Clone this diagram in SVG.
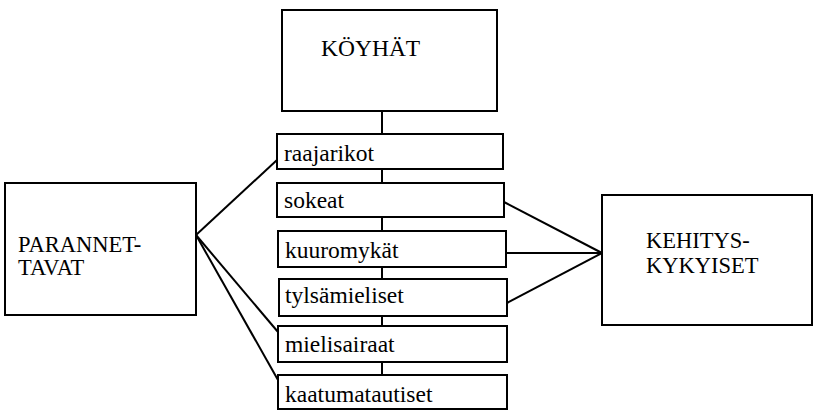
<svg xmlns="http://www.w3.org/2000/svg" width="814" height="410" viewBox="0 0 814 410">
  <style>
    .box { fill: #fff; stroke: #000; stroke-width: 2; }
    .lbl { font-family: 'Liberation Serif', 'DejaVu Serif', serif; font-size: 23.5px; fill: #000; }
    .big { font-size: 22.5px; }
    .conn line { stroke: #000; stroke-width: 2; }
  </style>
  <rect width="814" height="410" fill="#fff"/>

  <!-- connectors -->
  <g id="connectors" class="conn">
    <!-- vertical chain -->
    <line x1="382" y1="111" x2="382" y2="134"/>
    <line x1="382" y1="169" x2="382" y2="183"/>
    <line x1="382" y1="217" x2="382" y2="231"/>
    <line x1="382" y1="267" x2="382" y2="279"/>
    <line x1="382" y1="316" x2="382" y2="326"/>
    <line x1="382" y1="362" x2="382" y2="375"/>
    <!-- fan from PARANNET-TAVAT -->
    <line x1="196" y1="235" x2="277" y2="160"/>
    <line x1="196" y1="235" x2="278" y2="332"/>
    <line x1="196" y1="235" x2="278" y2="380"/>
    <!-- fan into KEHITYS-KYKYISET -->
    <line x1="504" y1="202" x2="602" y2="253"/>
    <line x1="506" y1="253" x2="602" y2="253"/>
    <line x1="507" y1="303" x2="602" y2="253"/>
  </g>

  <g id="koyhat">
    <rect class="box" x="282" y="10" width="215" height="101"/>
    <text class="lbl" x="321" y="56">KÖYHÄT</text>
  </g>

  <g id="raajarikot">
    <rect class="box" x="277" y="134" width="226" height="35"/>
    <text class="lbl" x="284" y="161">raajarikot</text>
  </g>

  <g id="sokeat">
    <rect class="box" x="277" y="183" width="227" height="34"/>
    <text class="lbl" x="284" y="208">sokeat</text>
  </g>

  <g id="kuuromykat">
    <rect class="box" x="278" y="231" width="228" height="36"/>
    <text class="lbl" x="285" y="258">kuuromykät</text>
  </g>

  <g id="tylsamieliset">
    <rect class="box" x="279" y="279" width="228" height="37"/>
    <text class="lbl" x="285" y="303">tylsämieliset</text>
  </g>

  <g id="mielisairaat">
    <rect class="box" x="278" y="326" width="229" height="36"/>
    <text class="lbl" x="285" y="352">mielisairaat</text>
  </g>

  <g id="kaatumatautiset">
    <rect class="box" x="278" y="375" width="229" height="34"/>
    <text class="lbl" x="285" y="402">kaatumatautiset</text>
  </g>

  <g id="parannettavat">
    <rect class="box" x="5" y="183" width="191" height="132"/>
    <text class="lbl big" x="18" y="252">PARANNET-</text>
    <text class="lbl big" x="18" y="275">TAVAT</text>
  </g>

  <g id="kehityskykyiset">
    <rect class="box" x="602" y="195" width="210" height="130"/>
    <text class="lbl big" x="646" y="248">KEHITYS-</text>
    <text class="lbl big" x="646" y="273">KYKYISET</text>
  </g>
</svg>
